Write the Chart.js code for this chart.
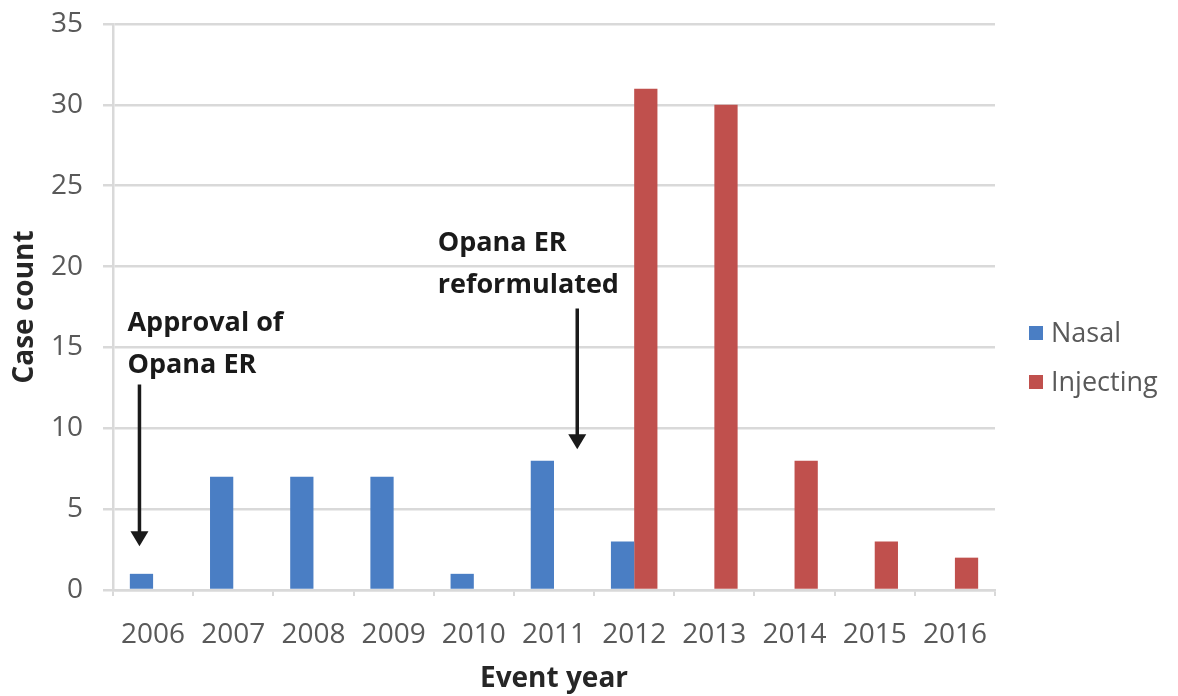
<!DOCTYPE html>
<html>
<head>
<meta charset="utf-8">
<script src="https://cdn.jsdelivr.net/npm/chart.js@4.4.1/dist/chart.umd.min.js"></script>
<style>
  html, body { margin: 0; padding: 0; background: #fff; }
  #wrap { width: 1178px; height: 696px; }
</style>
</head>
<body>
<div id="wrap"><canvas id="opanaChart" width="1178" height="696"></canvas></div>
<script>
const years = ['2006', '2007', '2008', '2009', '2010', '2011', '2012', '2013', '2014', '2015', '2016'];
const nasal = [1, 7, 7, 7, 1, 8, 3, 0, 0, 0, 0];
const injecting = [0, 0, 0, 0, 0, 0, 31, 30, 8, 3, 2];
const yMax = 35;
const yStep = 5;

// callouts, placed in data units (x = category index, y = case count)
const notes = [
  { lines: ['Approval of', 'Opana ER'], x: -0.32, y: 16.5, arrowX: -0.17, from: 12.7, to: 2.7 },
  { lines: ['Opana ER', 'reformulated'], x: 3.55, y: 21.45, arrowX: 5.29, from: 17.4, to: 8.7 }
];

const calloutPlugin = {
  id: 'callouts',
  afterDatasetsDraw(chart) {
    const ctx = chart.ctx;
    const xs = chart.scales.x, ys = chart.scales.y;
    ctx.save();
    ctx.fillStyle = '#1a1a1a';
    ctx.strokeStyle = '#1a1a1a';
    ctx.font = 'bold 27px "Open Sans"';
    ctx.textBaseline = 'middle';
    ctx.textAlign = 'left';
    notes.forEach(n => {
      const tx = xs.getPixelForValue(n.x);
      const ty = ys.getPixelForValue(n.y);
      n.lines.forEach((l, i) => ctx.fillText(l, tx, ty + i * 42));
      const ax = xs.getPixelForValue(n.arrowX);
      const y1 = ys.getPixelForValue(n.from);
      const y2 = ys.getPixelForValue(n.to);
      ctx.lineWidth = 3.5;
      ctx.beginPath();
      ctx.moveTo(ax, y1);
      ctx.lineTo(ax, y2 - 12);
      ctx.stroke();
      ctx.beginPath();
      ctx.moveTo(ax - 9, y2 - 15);
      ctx.lineTo(ax + 9, y2 - 15);
      ctx.lineTo(ax, y2);
      ctx.closePath();
      ctx.fill();
    });
    ctx.restore();
  }
};

const legendPlugin = {
  id: 'sideLegend',
  afterDraw(chart) {
    const ctx = chart.ctx;
    const left = chart.chartArea.right + 34;
    const top = 333;
    ctx.save();
    ctx.font = '27px "Open Sans"';
    ctx.textBaseline = 'middle';
    ctx.textAlign = 'left';
    chart.data.datasets.forEach((ds, i) => {
      const cy = top + i * 49;
      ctx.fillStyle = ds.backgroundColor;
      ctx.fillRect(left, cy - 7, 14, 14);
      ctx.fillStyle = '#595959';
      ctx.fillText(ds.label, left + 22, cy + 1);
    });
    ctx.restore();
  }
};

const ctx = document.getElementById('opanaChart').getContext('2d');
new Chart(ctx, {
  type: 'bar',
  data: {
    labels: years,
    datasets: [{
      label: 'Nasal',
      data: nasal,
      backgroundColor: '#4a7ec4',
      borderWidth: 0
    }, {
      label: 'Injecting',
      data: injecting,
      backgroundColor: '#c0504d',
      borderWidth: 0
    }]
  },
  options: {
    responsive: false,
    animation: false,
    devicePixelRatio: 1,
    categoryPercentage: 0.58,
    barPercentage: 1.0,
    layout: { padding: { top: 24, right: 183, left: 0, bottom: 0 } },
    plugins: {
      legend: { display: false },
      tooltip: { enabled: false }
    },
    scales: {
      x: {
        afterFit(scale) { scale.height = 106; },
        grid: {
          offset: true,
          drawOnChartArea: false,
          drawTicks: true,
          tickLength: 6,
          color: '#d9d9d9',
          lineWidth: 2
        },
        border: { color: '#d9d9d9', width: 2.5 },
        ticks: {
          color: '#595959',
          font: { family: 'Open Sans', size: 28 },
          padding: 22,
          maxRotation: 0,
          autoSkip: false
        },
        title: {
          display: true,
          text: 'Event year',
          color: '#262626',
          font: { family: 'Open Sans', size: 28, weight: 'bold' },
          padding: { top: 0, bottom: 0 }
        }
      },
      y: {
        min: 0,
        max: yMax,
        afterFit(scale) {
          scale.width = 113;
          scale.paddingTop = 0;
        },
        grid: {
          color: '#d9d9d9',
          lineWidth: 2.5,
          tickLength: 10
        },
        border: { color: '#d9d9d9', width: 2.5 },
        ticks: {
          stepSize: yStep,
          color: '#595959',
          font: { family: 'Open Sans', size: 28 },
          padding: 20
        },
        title: {
          display: true,
          text: 'Case count',
          color: '#262626',
          font: { family: 'Open Sans', size: 28, weight: 'bold' },
          padding: { top: 8, bottom: 0 }
        }
      }
    }
  },
  plugins: [calloutPlugin, legendPlugin]
});
</script>
</body>
</html>
